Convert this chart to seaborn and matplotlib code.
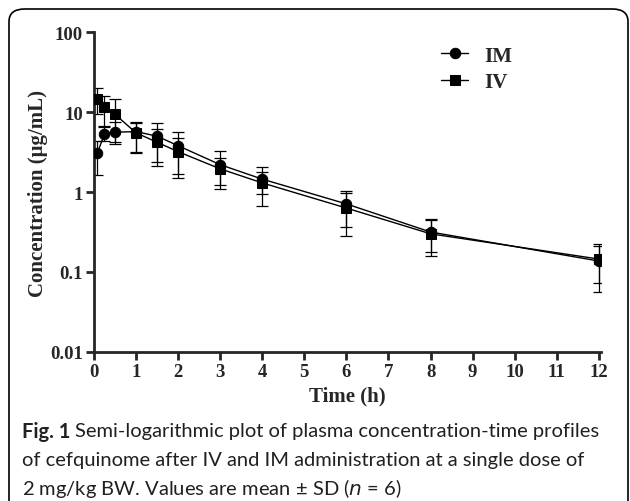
import numpy as np
import pandas as pd
import matplotlib
matplotlib.use("Agg")
import matplotlib.pyplot as plt
import seaborn as sns
from matplotlib.patches import FancyBboxPatch

# sampling times (h)
time_h = [0.083, 0.25, 0.5, 1, 1.5, 2, 3, 4, 6, 8, 12]

# mean concentrations (ug/mL) and SD bounds
im_mean = [3.07, 5.3, 5.6, 5.7, 5.0, 3.8, 2.2, 1.45, 0.71, 0.316, 0.137]
im_upper = [4.3, 6.7, 7.5, 7.5, 7.3, 5.6, 3.3, 2.05, 1.03, 0.46, 0.224]
im_lower = [1.63, 4.3, 4.0, 3.1, 2.4, 1.7, 1.22, 0.67, 0.37, 0.177, 0.056]

iv_mean = [14.5, 11.5, 9.4, 5.5, 4.2, 3.2, 1.95, 1.3, 0.63, 0.30, 0.145]
iv_upper = [20.0, 15.8, 14.5, 7.3, 6.1, 4.7, 2.65, 1.78, 0.97, 0.45, 0.21]
iv_lower = [9.4, 6.5, 4.2, 3.2, 2.1, 1.5, 1.09, 0.94, 0.28, 0.158, 0.073]

routes = ["IM", "IV"]

df = pd.concat([
    pd.DataFrame({"Time": time_h, "Conc": im_mean, "lo": im_lower, "hi": im_upper, "Route": "IM"}),
    pd.DataFrame({"Time": time_h, "Conc": iv_mean, "lo": iv_lower, "hi": iv_upper, "Route": "IV"}),
])

sns.set_style("ticks")
plt.rcParams["font.family"] = ["Liberation Serif", "DejaVu Serif"]

fig = plt.figure(figsize=(6.3, 5.02), dpi=100)
ax = fig.add_axes([0.149, 0.297, 0.805, 0.637])

# error bars first so markers sit on top
for r in routes:
    d = df[df["Route"] == r]
    ax.errorbar(d["Time"], d["Conc"],
                yerr=[d["Conc"] - d["lo"], d["hi"] - d["Conc"]],
                fmt="none", ecolor="black", elinewidth=0.9, capsize=4, capthick=0.9, zorder=2)

sns.lineplot(data=df, x="Time", y="Conc", style="Route", markers={"IM": "o", "IV": "s"},
             dashes=False, color="black", markersize=7.5, markeredgecolor="black",
             linewidth=1.0, ax=ax, zorder=3)

ax.set_yscale("log")
ax.set_ylim(0.01, 100)
ax.set_xlim(0, 12.05)
ax.set_xticks(range(0, 13))
ax.set_yticks([0.01, 0.1, 1, 10, 100])
ax.set_yticklabels(["0.01", "0.1", "1", "10", "100"])
ax.yaxis.set_minor_locator(matplotlib.ticker.NullLocator())
for s in ["top", "right"]:
    ax.spines[s].set_visible(False)
for s in ["left", "bottom"]:
    ax.spines[s].set_linewidth(2)
ax.tick_params(width=2, length=6, labelsize=13.5, direction="out", pad=2)
for lab in ax.get_xticklabels() + ax.get_yticklabels():
    lab.set_fontweight("bold")
ax.set_xlabel("Time (h)", fontsize=15, fontweight="bold", labelpad=4)
ax.set_ylabel("Concentration (\u03bcg/mL)", fontsize=15, fontweight="bold", labelpad=1)

leg = ax.legend(loc="upper left", bbox_to_anchor=(0.648, 1.016), frameon=False,
                prop={"weight": "bold", "size": 15}, handlelength=1.3, handletextpad=0.75,
                labelspacing=0.3)

# rounded frame around figure + caption
box = FancyBboxPatch((9 / 630, -0.05), 619 / 630, 1 - 10 / 502 + 0.05,
                     boxstyle="round,pad=0,rounding_size=0.025", transform=fig.transFigure,
                     fill=False, edgecolor="black", linewidth=1.2, clip_on=False)
fig.patches.append(box)

cap_font = ["Lato", "DejaVu Sans"]
cap_size = 14.5
cap_col = "#231f20"
t0 = fig.text(22 / 630, 1 - 432 / 502, "Fig. 1", fontsize=cap_size, fontweight="bold",
              family=cap_font, va="center", color=cap_col)
renderer = fig.canvas.get_renderer()
bb = t0.get_window_extent(renderer)
fig.text((bb.x1 + 5) / 630, 1 - 432 / 502, "Semi-logarithmic plot of plasma concentration-time profiles",
         fontsize=cap_size, family=cap_font, va="center", color=cap_col)
fig.text(22 / 630, 1 - 461 / 502, "of cefquinome after IV and IM administration at a single dose of",
         fontsize=cap_size, family=cap_font, va="center", color=cap_col)
fig.text(22 / 630, 1 - 489 / 502, "2 mg/kg BW. Values are mean \u00b1 SD ($\\it{n}$ = 6)",
         fontsize=cap_size, family=cap_font, va="center", color=cap_col)

fig.savefig("out.png", dpi=100)
